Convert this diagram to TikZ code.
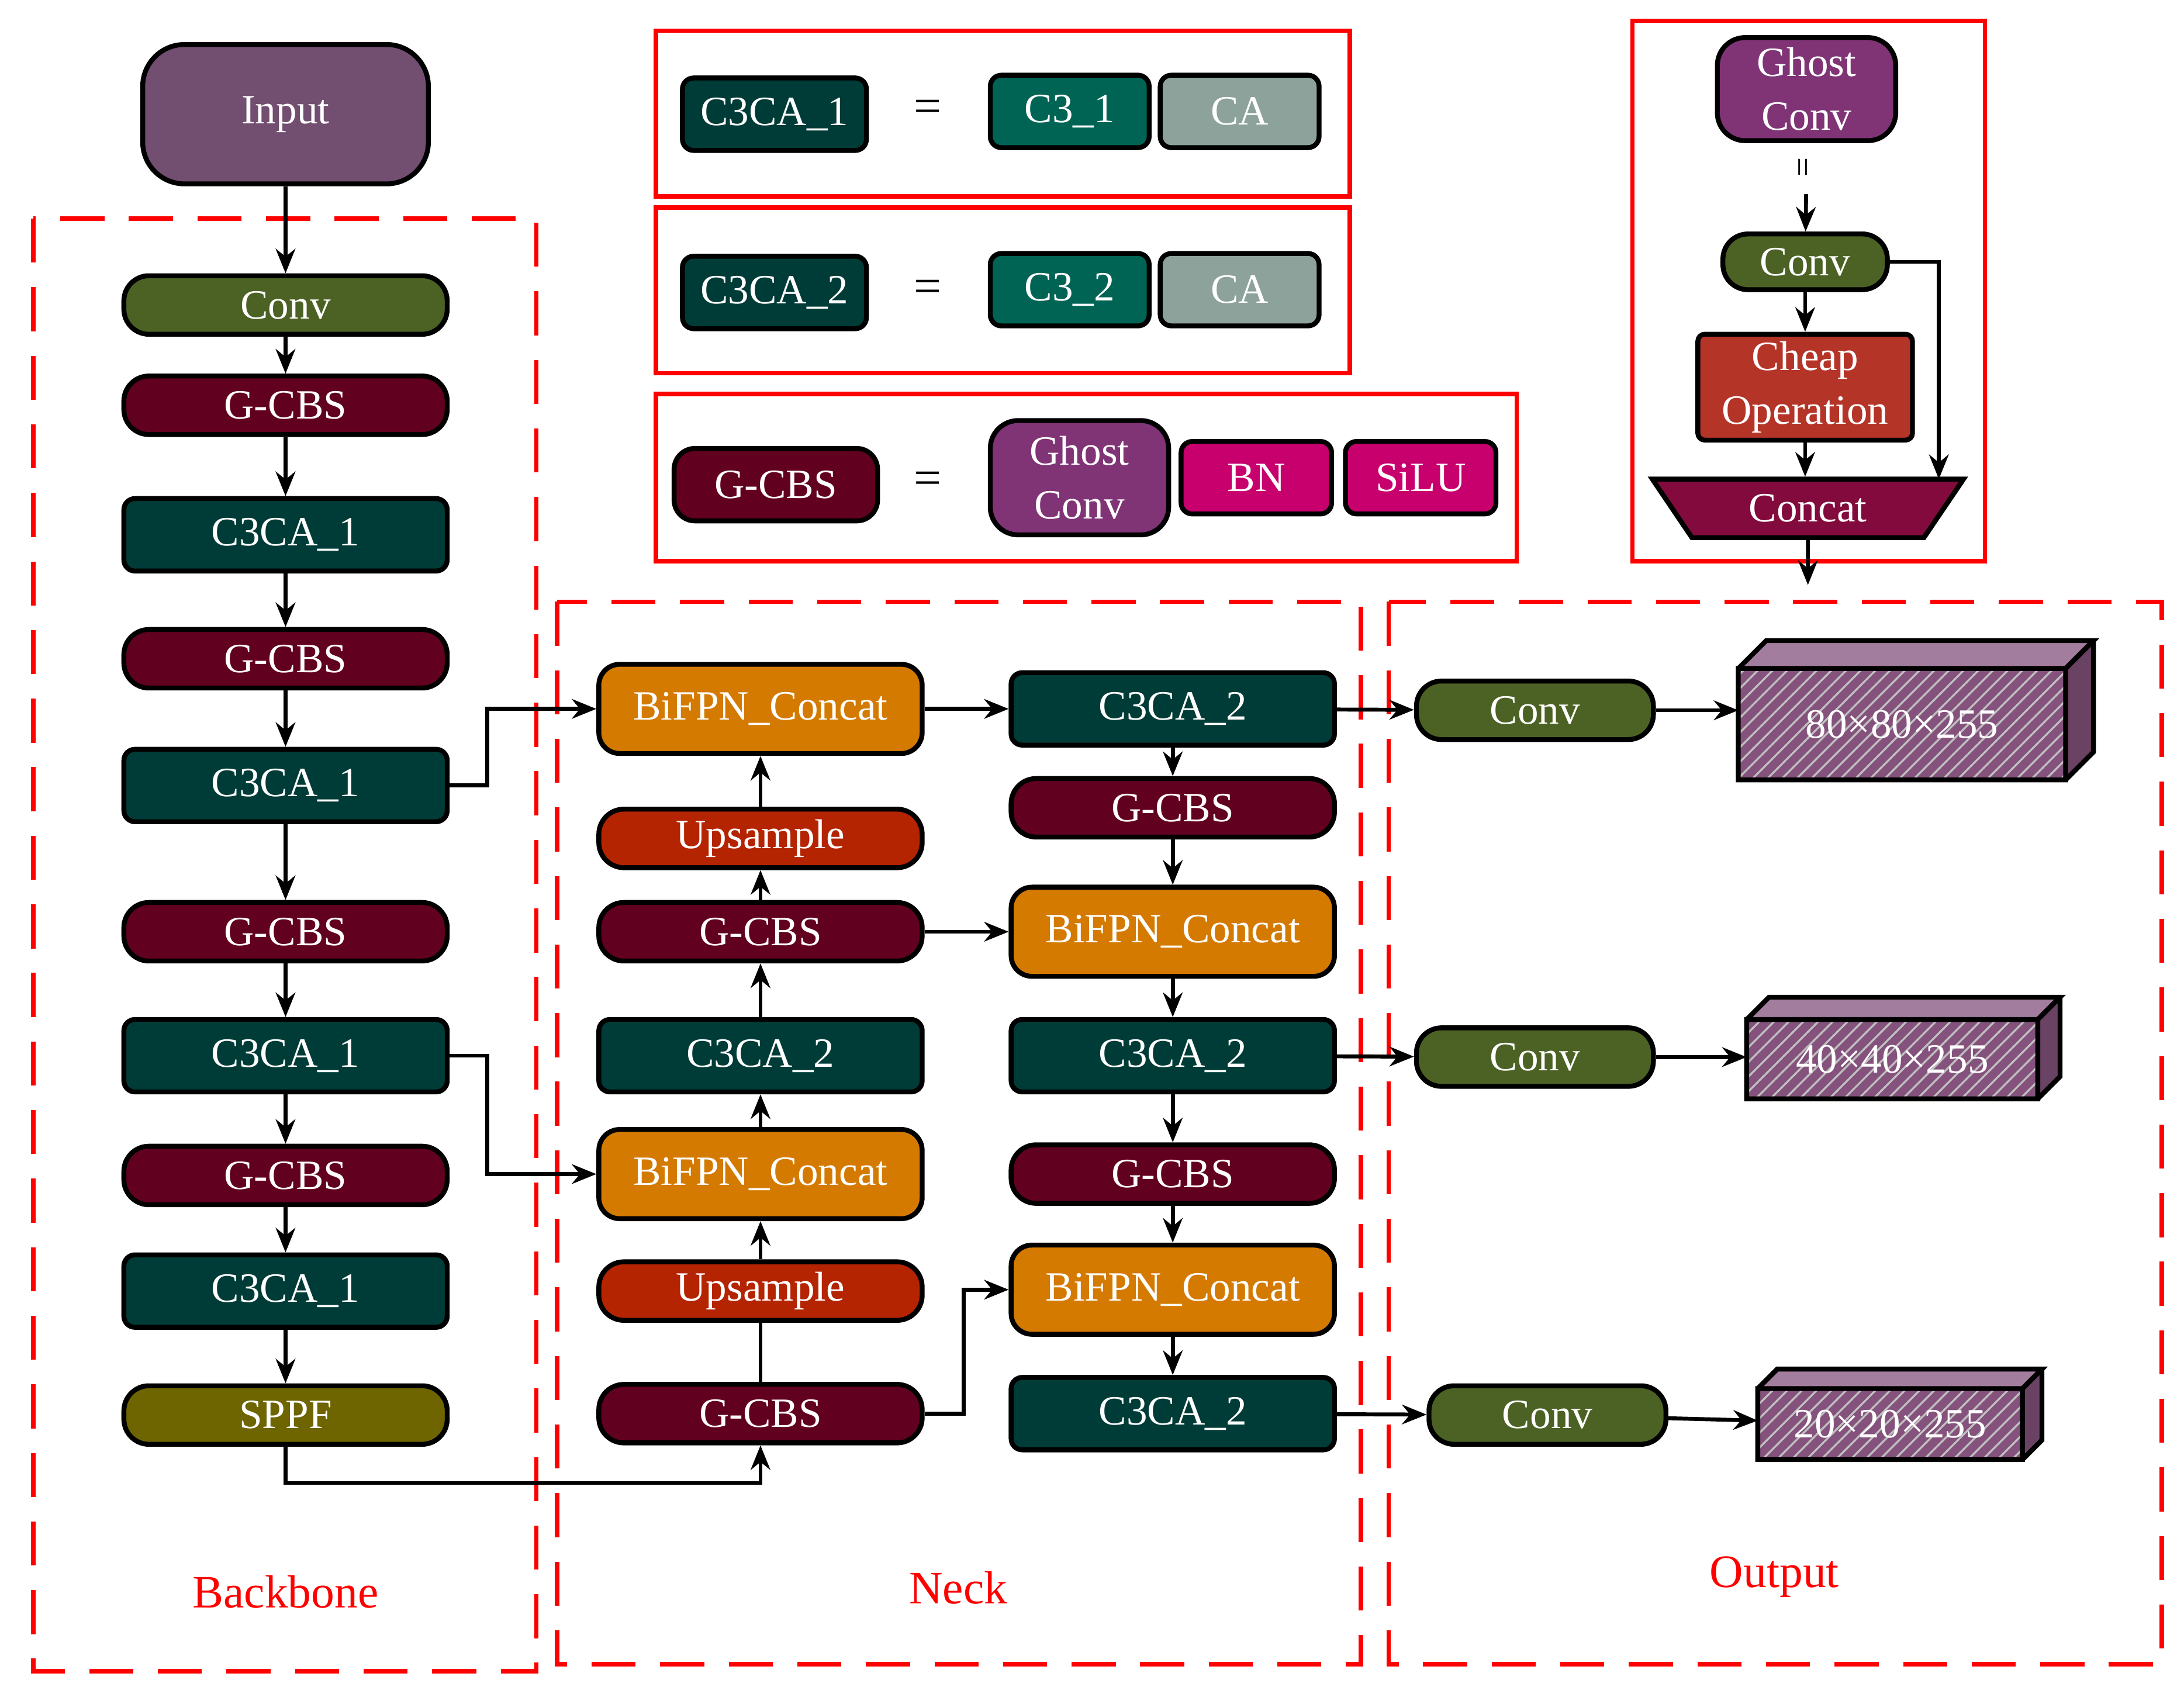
\documentclass[tikz,border=0pt]{standalone}
\usepackage{fontspec}
\setmainfont{Liberation Serif}
\usetikzlibrary{shapes.geometric,arrows.meta,patterns}
\definecolor{cin}{RGB}{114,78,112}
\definecolor{cconv}{RGB}{76,98,36}
\definecolor{cg}{RGB}{98,0,32}
\definecolor{cc3}{RGB}{0,60,55}
\definecolor{cc31}{RGB}{0,100,85}
\definecolor{cca}{RGB}{140,162,155}
\definecolor{csppf}{RGB}{110,100,0}
\definecolor{cbi}{RGB}{212,122,0}
\definecolor{cup}{RGB}{180,36,0}
\definecolor{cgh}{RGB}{128,52,118}
\definecolor{cbn}{RGB}{200,0,110}
\definecolor{ccheap}{RGB}{180,52,40}
\definecolor{ccat}{RGB}{130,10,60}
\definecolor{cbox}{RGB}{132,82,124}
\begin{document}
\begin{tikzpicture}[x=0.01cm,y=-0.01cm,
 b/.style={draw=black,line width=1pt,rounded corners=0.12cm,text=white,font=\fontsize{8.5}{10}\selectfont,minimum width=2.32cm,minimum height=0.42cm,inner sep=1pt,align=center},
 t/.style={b,minimum height=0.52cm,rounded corners=0.08cm},
 bi/.style={b,fill=cbi,minimum height=0.64cm,rounded corners=0.15cm},
 a/.style={-{Stealth[length=5pt,width=4pt]},line width=0.8pt},
 l/.style={line width=0.8pt},
 dbox/.style={draw=red,line width=0.9pt,dash pattern=on 9pt off 5pt},
 rbox/.style={draw=red,line width=0.9pt},
 lab/.style={text=red,font=\fontsize{9.5}{11}\selectfont}]
\useasboundingbox (0,0) rectangle (1568,1216);
% dashed boxes
\draw[dbox] (24,157) rectangle (385,1200);
\draw[dbox] (400,432) rectangle (977,1195);
\draw[dbox] (997,432) rectangle (1552,1195);
\node[lab] (lb) at (205,1143) {Backbone};
\node[lab] (ln) at (688,1140) {Neck};
\node[lab] (lo) at (1274,1132) {Output};
% backbone
\node[b,fill=cin,minimum width=2.05cm,minimum height=1cm,rounded corners=0.3cm] (in) at (205,82) {Input};
\node[b,fill=cconv,rounded corners=0.18cm] (b1) at (205,219) {Conv};
\node[b,fill=cg,rounded corners=0.18cm] (b2) at (205,291) {G-CBS};
\node[t,fill=cc3] (b3) at (205,384) {C3CA\_1};
\node[b,fill=cg,rounded corners=0.18cm] (b4) at (205,473) {G-CBS};
\node[t,fill=cc3] (b5) at (205,564) {C3CA\_1};
\node[b,fill=cg,rounded corners=0.18cm] (b6) at (205,669) {G-CBS};
\node[t,fill=cc3] (b7) at (205,758) {C3CA\_1};
\node[b,fill=cg,rounded corners=0.18cm] (b8) at (205,844) {G-CBS};
\node[t,fill=cc3] (b9) at (205,927) {C3CA\_1};
\node[b,fill=csppf,rounded corners=0.18cm] (b10) at (205,1016) {SPPF};
\foreach \i/\j in {in/b1,b1/b2,b2/b3,b3/b4,b4/b5,b5/b6,b6/b7,b7/b8,b8/b9,b9/b10}
  \draw[a] (\i) -- (\j);
% neck col1
\node[bi] (n1) at (546,509) {BiFPN\_Concat};
\node[b,fill=cup,rounded corners=0.18cm] (n2) at (546,602) {Upsample};
\node[b,fill=cg,rounded corners=0.18cm] (n3) at (546,669) {G-CBS};
\node[t,fill=cc3] (n4) at (546,758) {C3CA\_2};
\node[bi] (n5) at (546,843) {BiFPN\_Concat};
\node[b,fill=cup,rounded corners=0.18cm] (n6) at (546,927) {Upsample};
\node[b,fill=cg,rounded corners=0.18cm] (n7) at (546,1015) {G-CBS};
\draw[l] (n7) -- (n6);
\foreach \i/\j in {n6/n5,n5/n4,n4/n3,n3/n2,n2/n1} \draw[a] (\i) -- (\j);
% neck col2
\node[t,fill=cc3] (m1) at (842,509) {C3CA\_2};
\node[b,fill=cg,rounded corners=0.18cm] (m2) at (842,580) {G-CBS};
\node[bi] (m3) at (842,669) {BiFPN\_Concat};
\node[t,fill=cc3] (m4) at (842,758) {C3CA\_2};
\node[b,fill=cg,rounded corners=0.18cm] (m5) at (842,843) {G-CBS};
\node[bi] (m6) at (842,926) {BiFPN\_Concat};
\node[t,fill=cc3] (m7) at (842,1015) {C3CA\_2};
\foreach \i/\j in {m1/m2,m2/m3,m3/m4,m4/m5,m5/m6,m6/m7} \draw[a] (\i) -- (\j);
\draw[a] (n1) -- (m1);
\draw[a] (n3) -- (m3);
\draw[a] (n7.east) -- ++(28,0) |- (m6.west);
\draw[a] (b5.east) -- ++(27,0) |- (n1.west);
\draw[a] (b7.east) -- ++(27,0) |- (n5.west);
\draw[a] (b10.south) -- ++(0,26) -| (n7.south);
% outputs
\node[b,fill=cconv,minimum width=1.7cm,rounded corners=0.18cm] (o1) at (1102,510) {Conv};
\node[b,fill=cconv,minimum width=1.7cm,rounded corners=0.18cm] (o2) at (1102,759) {Conv};
\node[b,fill=cconv,minimum width=1.7cm,rounded corners=0.18cm] (o3) at (1111,1016) {Conv};
\draw[a] (m1) -- (o1);
\draw[a] (m4) -- (o2);
\draw[a] (m7) -- (o3);
% 3D boxes
\newcommand\cuboid[7]{%
 \fill[cbox!75!white] (#1,#2) -- ++(#5,-#5) -- (#3+#5,#2-#5) -- (#3,#2) -- cycle;
 \fill[cbox!80!black] (#3,#2) -- ++(#5,-#5) -- (#3+#5,#4-#5) -- (#3,#4) -- cycle;
 \fill[cbox] (#1,#2) rectangle (#3,#4);
 \fill[pattern=north east lines,pattern color=black!25] (#1,#2) rectangle (#3,#4);
 \draw[line width=1pt] (#1,#2) rectangle (#3,#4) (#1,#2) -- ++(#5,-#5) -- (#3+#5,#2-#5) -- (#3,#2) (#3+#5,#2-#5) -- (#3+#5,#4-#5) -- (#3,#4);
 \node[text=white,font=\fontsize{8.5}{10}\selectfont] (#6) at ({(#1+#3)/2},{(#2+#4)/2}) {#7};}
\cuboid{1248}{480}{1483}{560}{20}{c1}{80×80×255}
\cuboid{1254}{732}{1463}{789}{16}{c2}{40×40×255}
\cuboid{1262}{997}{1452}{1048}{14}{c3}{20×20×255}
\coordinate (e1) at (1248,510);
\coordinate (e2) at (1254,759);
\coordinate (e3) at (1262,1020);
\draw[a] (o1) -- (e1);
\draw[a] (o2) -- (e2);
\draw[a] (o3) -- (e3);
% legend
\draw[rbox] (471,22) rectangle (969,141);
\draw[rbox] (471,149) rectangle (969,268);
\draw[rbox] (471,283) rectangle (1089,403);
\node[t,fill=cc3,minimum width=1.32cm] (r1a) at (556,82) {C3CA\_1};
\node (r1e) at (666,80) {=};
\node[t,fill=cc31,minimum width=1.14cm] (r1b) at (768,80) {C3\_1};
\node[t,fill=cca,minimum width=1.14cm] (r1c) at (890,80) {CA};
\node[t,fill=cc3,minimum width=1.32cm] (r2a) at (556,210) {C3CA\_2};
\node (r2e) at (666,209) {=};
\node[t,fill=cc31,minimum width=1.14cm] (r2b) at (768,208) {C3\_2};
\node[t,fill=cca,minimum width=1.14cm] (r2c) at (890,208) {CA};
\node[t,fill=cg,minimum width=1.46cm,rounded corners=0.15cm] (r3a) at (557,348) {G-CBS};
\node (r3e) at (666,347) {=};
\node[t,fill=cgh,minimum width=1.28cm,minimum height=0.82cm,rounded corners=0.2cm] (r3b) at (775,343) {Ghost\\[1pt]Conv};
\node[t,fill=cbn,minimum width=1.08cm] (r3c) at (902,343) {BN};
\node[t,fill=cbn,minimum width=1.08cm] (r3d) at (1020,343) {SiLU};
% ghost conv
\draw[rbox] (1172,15) rectangle (1425,403);
\node[t,fill=cgh,minimum width=1.28cm,minimum height=0.74cm,rounded corners=0.2cm] (g1) at (1297,64) {Ghost\\[1pt]Conv};
\node[rotate=90,font=\scriptsize] (geq) at (1297,120) {=};
\node[b,fill=cconv,minimum width=1.18cm,minimum height=0.4cm,rounded corners=0.18cm] (g2) at (1296,188) {Conv};
\node[t,fill=ccheap,minimum width=1.54cm,minimum height=0.76cm,rounded corners=0.05cm] (g3) at (1296,278) {Cheap\\[1pt]Operation};
\node[trapezium,shape border rotate=180,trapezium stretches=true,trapezium angle=60,draw=black,line width=1pt,fill=ccat,text=white,font=\fontsize{8.5}{10}\selectfont,minimum width=2.24cm,minimum height=0.42cm,inner sep=1pt] (g4) at (1298,365) {Concat};
\draw[a] (geq) -- (g2);
\draw[a] (g2) -- (g3);
\draw[a] (g3) -- (g3 |- g4.north);
\coordinate (gc) at (1392,344);
\draw[a] (g2.east) -| (gc);
\coordinate (gd) at (1298,420);
\draw[a] (g4.south) -- (gd);
\end{tikzpicture}
\end{document}
